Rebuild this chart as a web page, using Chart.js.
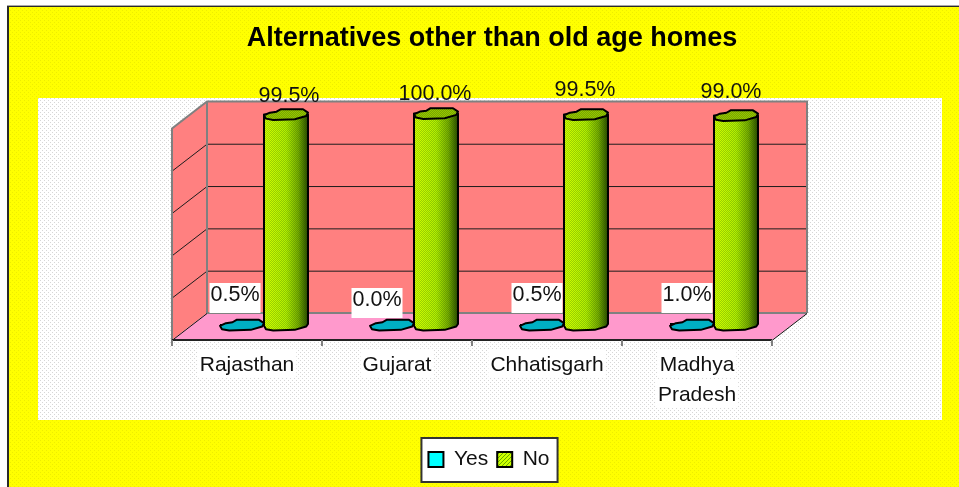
<!DOCTYPE html>
<html><head><meta charset="utf-8">
<style>html,body{margin:0;padding:0;background:#fff}canvas{display:block}</style>
<script src="https://cdn.jsdelivr.net/npm/chart.js@4"></script></head>
<body><canvas id="c" width="959" height="487"></canvas>
<script>
const chartTitle = "Alternatives other than old age homes";
const categories = [["Rajasthan"], ["Gujarat"], ["Chhatisgarh"], ["Madhya", "Pradesh"]];
const yesValues = [0.5, 0.0, 0.5, 1.0];
const noValues = [99.5, 100.0, 99.5, 99.0];
const seriesNames = ["Yes", "No"];
const yTicks = { min: 0, max: 100, stepSize: 20 };

function tile(w, h, draw) {
  const c = document.createElement("canvas"); c.width = w; c.height = h;
  const g = c.getContext("2d"); draw(g);
  return document.getElementById("c").getContext("2d").createPattern(c, "repeat");
}
const yellowTex = tile(4, 4, g => { g.fillStyle = "#ffff00"; g.fillRect(0,0,4,4); g.fillStyle = "#eeee00"; g.fillRect(0,0,1,1); g.fillRect(2,2,1,1); });
const whiteTex = tile(4, 4, g => { g.fillStyle = "#ffffff"; g.fillRect(0,0,4,4); g.fillStyle = "#d6d6d6"; g.fillRect(0,0,1,1); g.fillRect(2,2,1,1); });
const hatchTex = tile(4, 4, g => { g.fillStyle = "rgba(0,80,0,0.24)"; for (let i=0;i<4;i++){ g.fillRect(i,(3-i),1,1); g.fillRect((i+2)%4,(3-i),1,1);} });
const greenSwatch = tile(4, 4, g => { g.fillStyle = "#ccff00"; g.fillRect(0,0,4,4); g.fillStyle = "#66aa00"; for (let i=0;i<4;i++){ g.fillRect(i,3-i,1,1);} });

const capShape = [[0,.15],[.135,-.33],[.285,-.5],[.376,-.94],[.887,-.94],[1,-.33],[.96,.27],[.7,.88],[.21,1],[.045,.76]];
const RY = 5.5;

const scene = {
  id: "scene",
  afterLayout(chart) {
    chart.titleBlock.left += 3; chart.titleBlock.right += 3;
  },
  beforeDraw(chart) {
    const g = chart.ctx, {x: xs, y: ys} = chart.scales, a = chart.chartArea;
    g.save();
    g.fillStyle = "#fff"; g.fillRect(0,0,959,487);
    g.fillStyle = yellowTex; g.fillRect(9,7,950,480);
    g.fillStyle = "#a8a8a8"; g.fillRect(7,5,952,1);
    g.fillStyle = "#2a2a2a"; g.fillRect(7,6,952,1); g.fillRect(7,6,2,481);
    g.fillStyle = whiteTex; g.fillRect(38,98,904,322);

    const base = ys.getPixelForValue(0), top = ys.getPixelForValue(100);
    const fl = a.left-17, fr = a.right-17, bl = a.left+18, br = a.right+18;
    const fb = base+15, ft = top+15, bb = base-12, bt = top-12;
    // walls
    g.fillStyle = "#ff8080";
    g.fillRect(bl,bt,br-bl,bb-bt);
    g.beginPath(); g.moveTo(fl,ft); g.lineTo(bl,bt); g.lineTo(bl,bb); g.lineTo(fl,fb); g.closePath(); g.fill();
    // floor
    g.fillStyle = "#ff99cc";
    g.beginPath(); g.moveTo(fl,fb); g.lineTo(bl,bb); g.lineTo(br,bb); g.lineTo(fr,fb); g.closePath(); g.fill();
    // gridlines
    g.strokeStyle = "#1c1c1c"; g.lineWidth = 1;
    ys.ticks.forEach(t => {
      if (t.value === 0 || t.value === 100) return;
      const p = ys.getPixelForValue(t.value);
      g.beginPath(); g.moveTo(fl,p+15+.5); g.lineTo(bl,p-12+.5); g.lineTo(br,p-12+.5); g.stroke();
    });
    // wall outlines
    g.strokeStyle = "#808080"; g.lineWidth = 2;
    g.beginPath(); g.moveTo(fl,fb); g.lineTo(fl,ft); g.lineTo(bl,bt); g.lineTo(br,bt); g.lineTo(br,bb); g.stroke();
    g.beginPath(); g.moveTo(bl,bt); g.lineTo(bl,bb); g.lineTo(br,bb); g.stroke();
    g.strokeStyle = "#111"; g.lineWidth = 1;
    g.beginPath(); g.moveTo(fl,fb+.5); g.lineTo(bl,bb+.5); g.moveTo(fr,fb+.5); g.lineTo(br,bb+.5); g.stroke();
    g.lineWidth = 2; g.strokeStyle = "#222";
    g.beginPath(); g.moveTo(fl,fb); g.lineTo(fr,fb); g.stroke();
    // category tick marks
    g.strokeStyle = "#808080"; g.lineWidth = 2;
    const step = (a.right-a.left)/categories.length;
    for (let i=0;i<=categories.length;i++){ const p = fl+i*step; g.beginPath(); g.moveTo(p,fb); g.lineTo(p,fb+6); g.stroke(); }
    // white plates behind category labels
    g.font = '21px "Liberation Sans"'; g.fillStyle = "#fff";
    categories.forEach((lines,i) => lines.forEach((s,j) => {
      const m = g.measureText(s).width, cx = fl+(i+.5)*step;
      g.fillRect(cx-m/2-2, base+25+j*30, m+4, 28);
    }));
    // legend frame
    const hb = chart.legend.legendHitBoxes;
    const L = hb[0].left-7, R = hb[hb.length-1].left+hb[hb.length-1].width+8;
    g.fillStyle = "#fff"; g.fillRect(L,438,R-L,44);
    g.strokeStyle = "#333"; g.lineWidth = 2; g.strokeRect(L,438,R-L,44);
    g.restore();
  },
  afterDatasetsDraw(chart) {
    const g = chart.ctx, ys = chart.scales.y, base = ys.getPixelForValue(0);
    const trace = (x,w,y) => { g.beginPath(); capShape.forEach(([u,v],i)=>{ const px=x+u*w, py=y+v*RY; i?g.lineTo(px,py):g.moveTo(px,py); }); g.closePath(); };
    chart.data.datasets.forEach((ds, di) => {
      chart.getDatasetMeta(di).data.forEach(el => {
        const w = el.width, x = el.x-w/2, y = el.y, b = el.base;
        g.save();
        g.lineJoin = "round";
        const body = () => { g.beginPath(); g.moveTo(x,y); g.lineTo(x+w,y); g.lineTo(x+w,b-1);
          [[.96,.27],[.7,.88],[.21,1],[.045,.76],[0,.15]].forEach(([u,v])=>g.lineTo(x+u*w,b+v*RY)); g.closePath(); };
        if (di === 1) {
          const gr = g.createLinearGradient(x,0,x+w,0);
          gr.addColorStop(0,"#d4ff00"); gr.addColorStop(.5,"#b4ee00"); gr.addColorStop(.78,"#7aac00"); gr.addColorStop(1,"#2c4a00");
          body(); g.fillStyle = gr; g.fill(); g.fillStyle = hatchTex; g.fill();
          g.strokeStyle = "#000"; g.lineWidth = 2; g.stroke();
          trace(x,w,y); g.fillStyle = "#99c400"; g.fill(); g.fillStyle = hatchTex; g.fill(); g.stroke();
        } else {
          trace(x,w,b); g.fillStyle = "#00b0c4"; g.fill();
          g.strokeStyle = "#000"; g.lineWidth = 2; g.stroke();
        }
        g.restore();
      });
    });
    // value labels
    const shifts = [
      { dx:[-7,-15,-5,-5], dy:[-30,-25,-30,-30] },
      { dx:[3,-1,-1,-5], dy:[-17,-19,-23,-21] }
    ];
    g.save();
    g.font = '21.5px "Liberation Sans"'; g.textAlign = "center"; g.textBaseline = "middle";
    chart.data.datasets.forEach((ds, di) => {
      chart.getDatasetMeta(di).data.forEach((el,i) => {
        const t = ds.data[i].toFixed(1)+"%";
        const cx = el.x+shifts[di].dx[i];
        const cy = (di ? ys.getPixelForValue(100) : base)+shifts[di].dy[i];
        if (di === 0) { const m = g.measureText(t).width; g.fillStyle = "#fff"; g.fillRect(cx-m/2-1,cy-12,m+2,30); }
        g.fillStyle = "#111"; g.fillText(t,cx,cy);
      });
    });
    g.restore();
  }
};

new Chart(document.getElementById("c"), {
  type: "bar",
  data: { labels: categories, datasets: [
    { label: seriesNames[0], data: yesValues, backgroundColor: "#00ffff", borderColor: "#000", borderWidth: 2, categoryPercentage: 88/150, barPercentage: 1 },
    { label: seriesNames[1], data: noValues, backgroundColor: greenSwatch, borderColor: "#000", borderWidth: 2, categoryPercentage: 88/150, barPercentage: 1 }
  ]},
  options: {
    responsive: false, animation: false, devicePixelRatio: 1,
    layout: { padding: { left: 189, right: 170, top: 0, bottom: 7 } },
    plugins: {
      tooltip: { enabled: false },
      title: { display: true, text: chartTitle, color: "#000", font: { family: "Liberation Sans", size: 27, weight: "bold", lineHeight: 1.2 }, padding: { top: 22, bottom: 59 } },
      legend: { position: "bottom", labels: { boxWidth: 15, boxHeight: 15, padding: 9, color: "#111", font: { family: "Liberation Sans", size: 21 } } }
    },
    scales: {
      x: {
        grid: { display: false }, border: { display: false },
        afterFit(s) { s.height = 115; },
        ticks: { autoSkip: false, maxRotation: 0, minRotation: 0, labelOffset: -17, padding: 17, color: "#111",
          font: { family: "Liberation Sans", size: 21, lineHeight: 1.43 } }
      },
      y: { display: false, min: yTicks.min, max: yTicks.max, ticks: { stepSize: yTicks.stepSize } }
    }
  },
  plugins: [scene]
});
</script></body></html>
